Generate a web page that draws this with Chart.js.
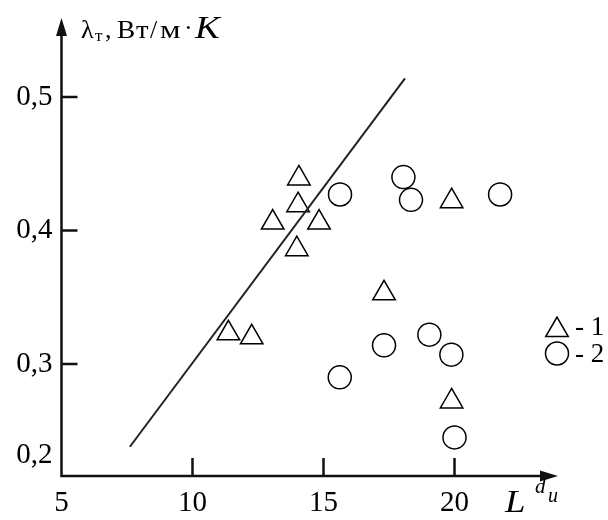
<!DOCTYPE html>
<html>
<head>
<meta charset="utf-8">
<script src="https://cdn.jsdelivr.net/npm/chart.js@4.4.1/dist/chart.umd.min.js"></script>
<style>
html,body{margin:0;padding:0;background:#fff;}
#wrap{position:relative;width:608px;height:520px;}
</style>
</head>
<body>
<div id="wrap"><canvas id="c"></canvas></div>
<script>
// ---- data ----
const series1X = [11.37, 12.26, 13.06, 14.06, 14.03, 13.98, 14.83, 17.31, 19.89, 19.89];
const series1Y = [0.323, 0.320, 0.406, 0.439, 0.419, 0.386, 0.406, 0.353, 0.422, 0.272];
const series2X = [15.63, 18.05, 18.34, 21.74, 15.62, 17.31, 19.04, 19.88, 20.00];
const series2Y = [0.427, 0.440, 0.423, 0.427, 0.290, 0.314, 0.322, 0.307, 0.245];
const lineX = [7.61, 18.11];
const lineY = [0.238, 0.514];
const xTickValues = [5, 10, 15, 20];
const xTickLabels = ['5', '10', '15', '20'];
const yTickValues = [0.2, 0.3, 0.4, 0.5];
const yTickLabels = ['0,2', '0,3', '0,4', '0,5'];
const seriesNames = ['1', '2'];

const xMin = 5, xMax = 23.95;
const yMin = 0.2161, yMax = 0.5592;
const serif = '"Liberation Serif", "DejaVu Serif", serif';
const ink = '#111';
const lowLabelShift = 0.0155; // "0,2" sits just above the (truncated) axis

function pts(xs, ys){ return xs.map((x,i)=>({x:x, y:ys[i]})); }
function yTickPos(v){ return Math.max(v, yMin + lowLabelShift); }

function stretchedText(ctx, txt, x, y, sx){
  ctx.save(); ctx.translate(x, y); ctx.scale(sx, 1); ctx.fillText(txt, 0, 0); ctx.restore();
}

const axisPlugin = {
  id: 'axisDeco',
  afterDraw(chart){
    const ctx = chart.ctx, a = chart.chartArea;
    const xs = chart.scales.x, ys = chart.scales.y;
    ctx.save();
    ctx.strokeStyle = ink; ctx.fillStyle = ink; ctx.lineWidth = 2.5;
    ctx.beginPath();
    ctx.moveTo(a.left, a.top + 10); ctx.lineTo(a.left, a.bottom);
    ctx.lineTo(a.right - 10, a.bottom);
    ctx.stroke();
    ctx.beginPath();
    ctx.moveTo(a.left, a.top); ctx.lineTo(a.left - 5.5, a.top + 18); ctx.lineTo(a.left + 5.5, a.top + 18); ctx.closePath(); ctx.fill();
    ctx.beginPath();
    ctx.moveTo(a.right, a.bottom); ctx.lineTo(a.right - 18, a.bottom - 5.5); ctx.lineTo(a.right - 18, a.bottom + 5.5); ctx.closePath(); ctx.fill();
    ctx.beginPath();
    yTickValues.forEach(v=>{
      if (v <= yMin) return;
      const py = ys.getPixelForValue(v);
      ctx.moveTo(a.left, py); ctx.lineTo(a.left + 16, py);
    });
    xTickValues.forEach(v=>{
      if (v <= xMin) return;
      const px = xs.getPixelForValue(v);
      ctx.moveTo(px, a.bottom); ctx.lineTo(px, a.bottom - 18);
    });
    ctx.stroke();

    // y axis title: λт, Вт/м·K
    ctx.fillStyle = '#000';
    ctx.textBaseline = 'alphabetic'; ctx.textAlign = 'left';
    const base = 38;
    ctx.font = '26px ' + serif; ctx.fillText('λ', 81, base);
    ctx.font = '17px ' + serif; ctx.fillText('т', 95, base + 3);
    ctx.font = '26px ' + serif; ctx.fillText(',', 105, base);
    stretchedText(ctx, 'В', 117, base, 1.05);
    stretchedText(ctx, 'т', 136, base, 1.1);
    ctx.fillText('/', 150, base);
    stretchedText(ctx, 'м', 160, base, 1.25);
    ctx.fillText('·', 184, base - 2);
    ctx.font = 'italic 31px ' + serif; stretchedText(ctx, 'K', 195, base, 1.2);

    // x axis title: L^(d_u)
    ctx.font = 'italic 32px ' + serif; stretchedText(ctx, 'L', 505, 512, 1.15);
    ctx.font = 'italic 21px ' + serif; ctx.fillText('d', 535, 493);
    ctx.font = 'italic 20px ' + serif; ctx.fillText('u', 548, 502);

    // legend
    ctx.lineWidth = 1.5; ctx.strokeStyle = '#000';
    const lx = 557, cy = 330, r = 13;
    ctx.beginPath();
    for (let k = 0; k < 3; k++){
      const ang = k * 2 * Math.PI / 3;
      const px = lx + Math.sin(ang) * r, py = cy - Math.cos(ang) * r;
      if (k === 0) ctx.moveTo(px, py); else ctx.lineTo(px, py);
    }
    ctx.closePath(); ctx.stroke();
    ctx.beginPath(); ctx.arc(lx, 353.5, 11.5, 0, Math.PI * 2); ctx.stroke();
    ctx.font = '27px ' + serif; ctx.textBaseline = 'middle';
    ctx.fillText('- ' + seriesNames[0], 575, 328);
    ctx.fillText('- ' + seriesNames[1], 575, 355);
    ctx.restore();
  }
};

new Chart(document.getElementById('c'), {
  type: 'scatter',
  data: {
    datasets: [
      { label: 'line', data: pts(lineX, lineY), showLine: true, borderColor: '#222', borderWidth: 2,
        pointRadius: 0, fill: false },
      { label: seriesNames[0], data: pts(series1X, series1Y), pointStyle: 'triangle', pointRadius: 13,
        pointBorderColor: '#000', pointBackgroundColor: 'rgba(0,0,0,0)', pointBorderWidth: 1.5 },
      { label: seriesNames[1], data: pts(series2X, series2Y), pointStyle: 'circle', pointRadius: 11.5,
        pointBorderColor: '#000', pointBackgroundColor: 'rgba(0,0,0,0)', pointBorderWidth: 1.5 }
    ]
  },
  options: {
    responsive: true, maintainAspectRatio: false, animation: false,
    layout: { padding: { top: 18, right: 50, left: 0, bottom: 0 } },
    plugins: { legend: { display: false }, tooltip: { enabled: false } },
    scales: {
      x: {
        type: 'linear', min: xMin, max: xMax,
        grid: { display: false, drawTicks: false },
        border: { display: false },
        afterBuildTicks(s){ s.ticks = xTickValues.map(v=>({value:v})); },
        afterFit(s){ s.height = 44; s.paddingLeft = 0; s.paddingRight = 0; },
        ticks: { color: '#000', padding: 10, maxRotation: 0, autoSkip: false,
          font: { family: serif, size: 29 },
          callback(v){ const i = xTickValues.indexOf(v); return i >= 0 ? xTickLabels[i] : ''; } }
      },
      y: {
        type: 'linear', min: yMin, max: yMax,
        grid: { display: false, drawTicks: false },
        border: { display: false },
        afterBuildTicks(s){ s.ticks = yTickValues.map(v=>({value: yTickPos(v)})); },
        afterFit(s){ s.width = 61.5; s.paddingTop = 0; s.paddingBottom = 0; },
        ticks: { color: '#000', padding: 9, autoSkip: false,
          font: { family: serif, size: 29 },
          callback(v){
            let best = 0, d = 1e9;
            yTickValues.forEach((t,i)=>{ const dd = Math.abs(yTickPos(t) - v); if (dd < d){ d = dd; best = i; } });
            return yTickLabels[best];
          } }
      }
    }
  },
  plugins: [axisPlugin]
});
</script>
</body>
</html>
